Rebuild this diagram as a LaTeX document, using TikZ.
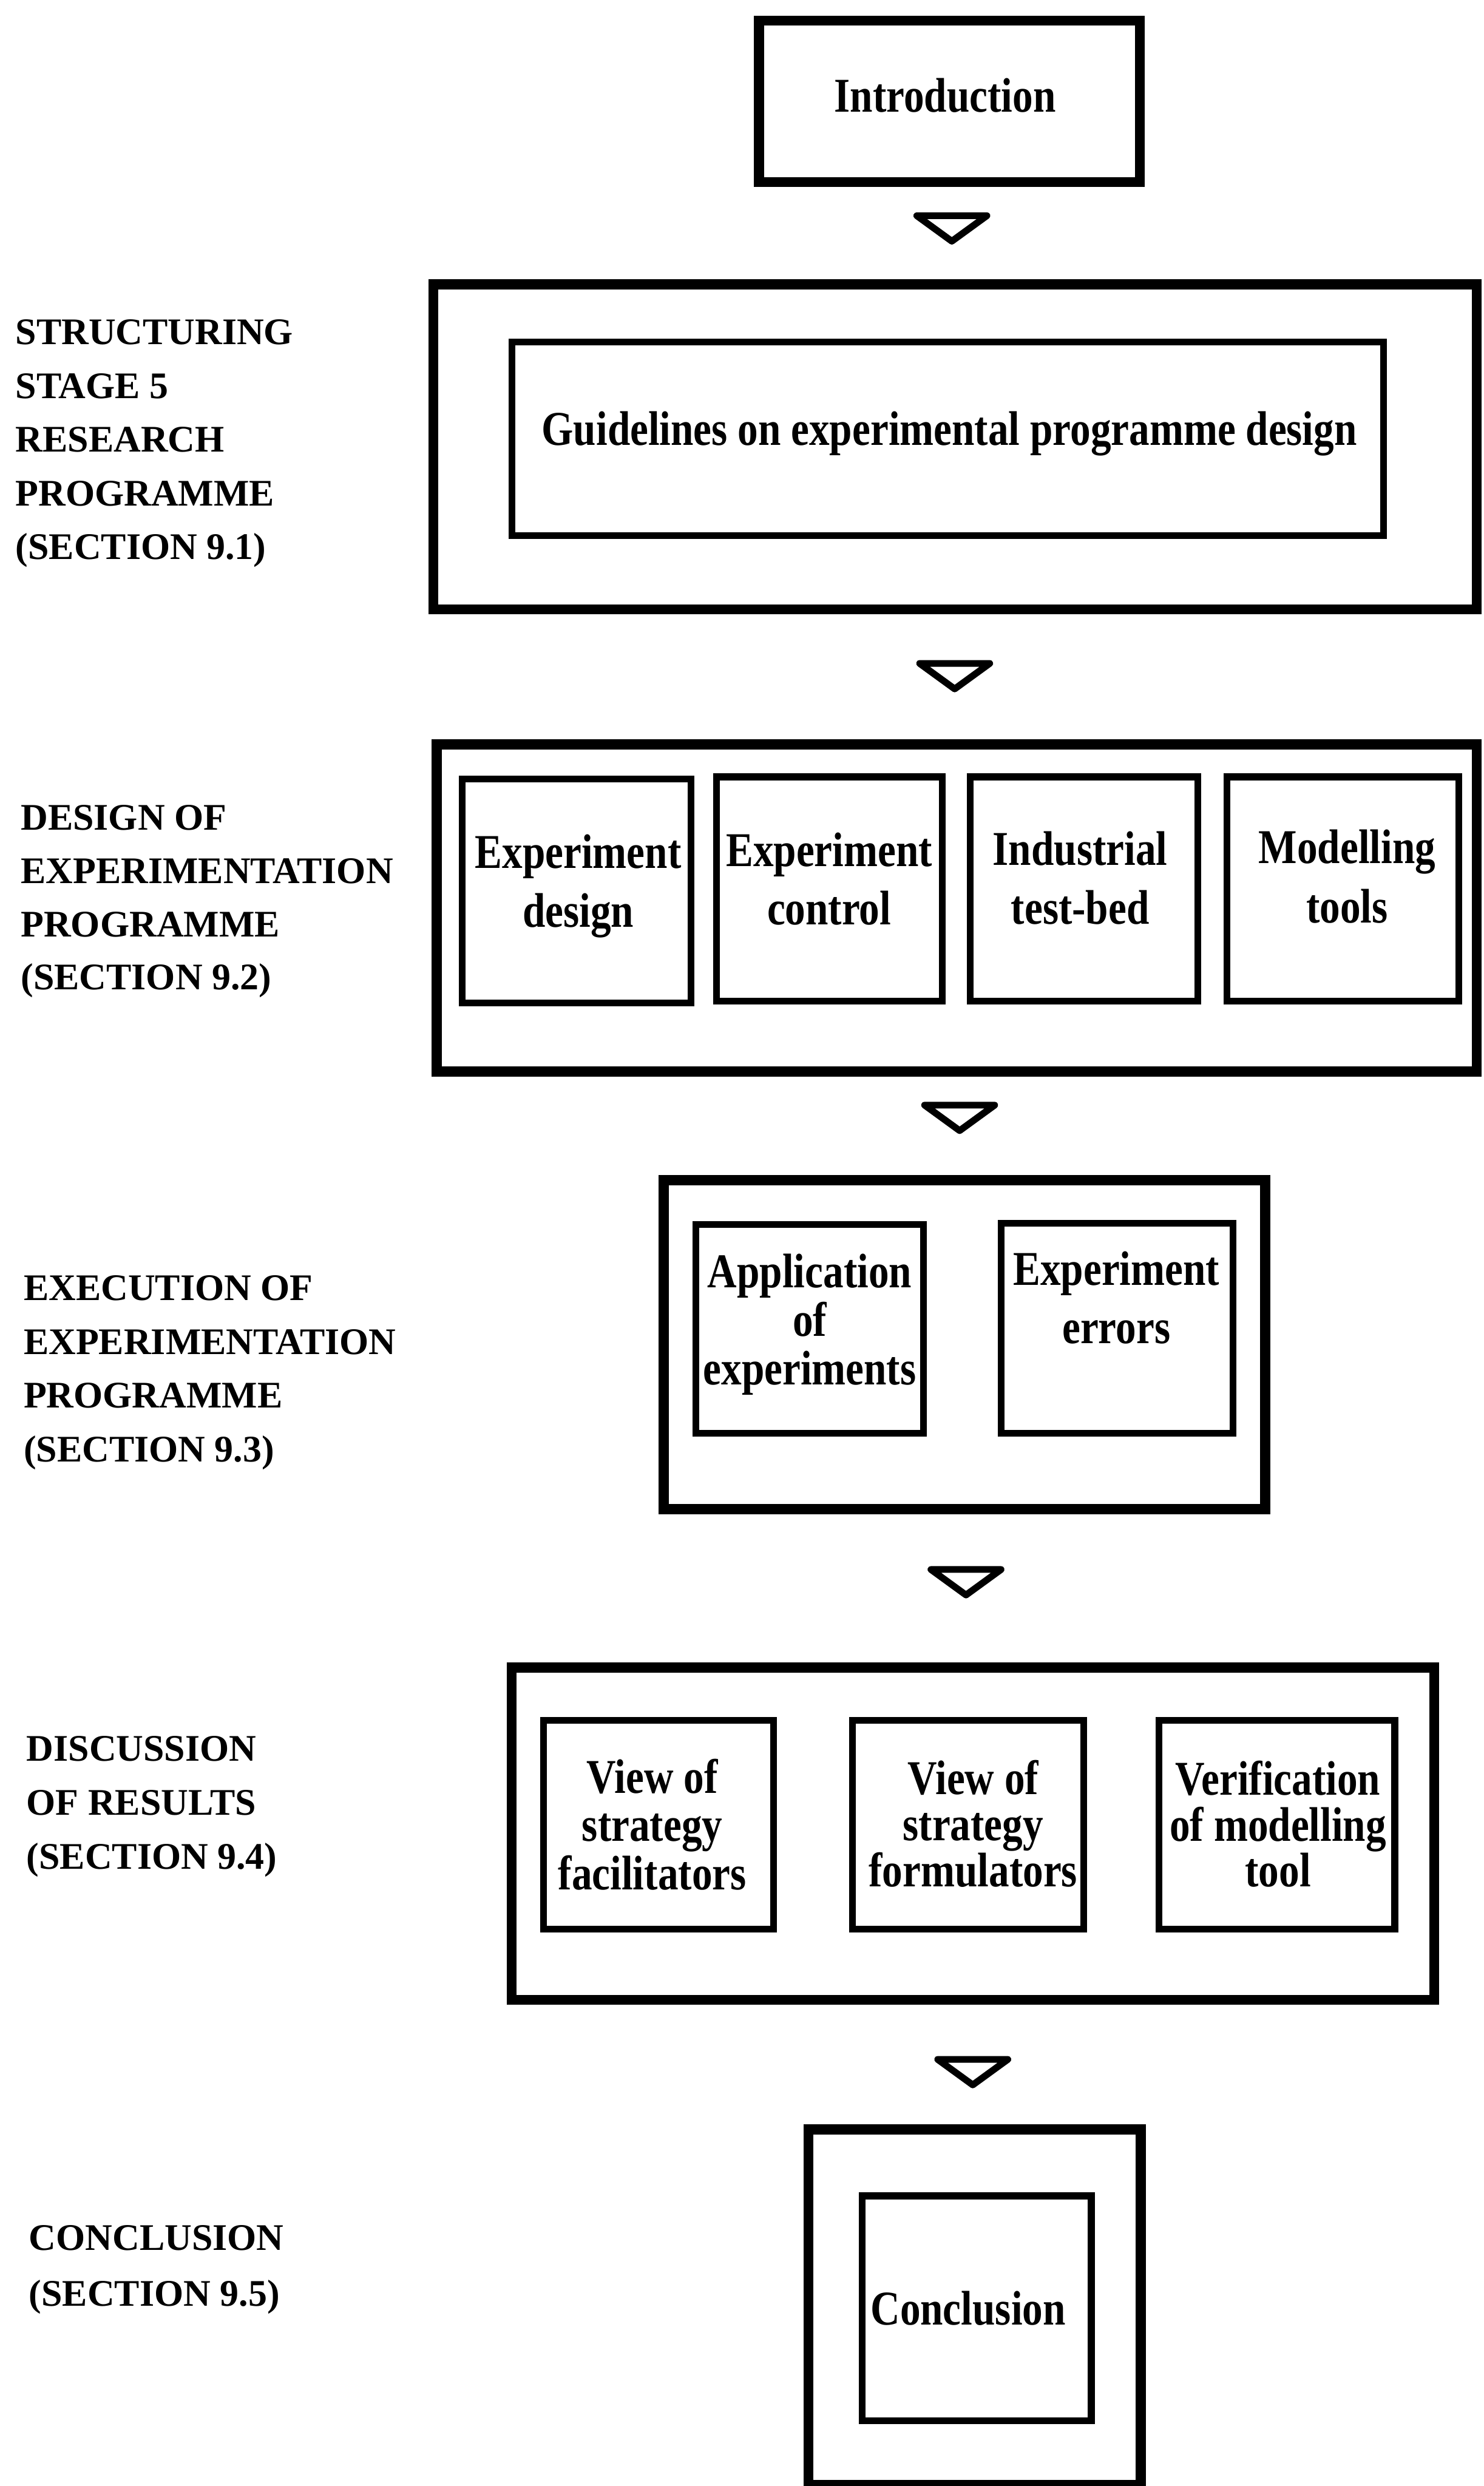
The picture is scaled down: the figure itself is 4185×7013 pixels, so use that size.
\documentclass[tikz,border=0pt]{standalone}
\usepackage{fontspec}
\setmainfont{Liberation Serif}
\newfontfamily\boxfont{Liberation Serif}[FakeStretch=0.84]

% centred and left-aligned line stacks whose reference point is the first baseline
\newcommand\cstack[2]{\vtop{\baselineskip=#1\lineskiplimit=-\maxdimen\lineskip=0pt\halign{\hfil##\hfil\cr#2\crcr}}}
\newcommand\lstack[2]{\vtop{\baselineskip=#1\lineskiplimit=-\maxdimen\lineskip=0pt\halign{##\hfil\cr#2\crcr}}}

\tikzset{
  outerbox/.style={draw, line width=2.8pt, inner sep=0pt},
  innerbox/.style={draw, line width=1.9pt, inner sep=0pt},
  boxtext/.style={font=\boxfont\bfseries\fontsize{13.7}{16.5}\selectfont, anchor=base, inner sep=0pt},
  sidelabel/.style={font=\bfseries\fontsize{10.6}{15.2}\selectfont, anchor=base west, inner sep=0pt},
  flowmark/.style={draw, line width=1.9pt, line join=round, fill=white}
}

\begin{document}
\begin{tikzpicture}[x=0.1pt,y=-0.1pt]
\useasboundingbox (0,0) rectangle (4185,7013);

% ---------- side labels ----------
\node[sidelabel] (lab1) at (42,972)  {\lstack{15.15pt}{STRUCTURING\cr STAGE 5\cr RESEARCH\cr PROGRAMME\cr (SECTION 9.1)}};
\node[sidelabel] (lab2) at (57,2342) {\lstack{15.0pt}{DESIGN OF\cr EXPERIMENTATION\cr PROGRAMME\cr (SECTION 9.2)}};
\node[sidelabel] (lab3) at (65,3668) {\lstack{15.2pt}{EXECUTION OF\cr EXPERIMENTATION\cr PROGRAMME\cr (SECTION 9.3)}};
\node[sidelabel] (lab4) at (73,4968) {\lstack{15.2pt}{DISCUSSION\cr OF RESULTS\cr (SECTION 9.4)}};
\node[sidelabel] (lab5) at (80,6347) {\lstack{15.8pt}{CONCLUSION\cr (SECTION 9.5)}};

% ---------- introduction ----------
\node[outerbox, minimum width=107.4pt, minimum height=45.6pt] (intro) at (2678,286) {};
\node[boxtext] (introtxt) at (2666,316) {Introduction};

% ---------- stage 5 ----------
\node[outerbox, minimum width=294.4pt, minimum height=91.7pt] (struct) at (2694,1260.5) {};
\node[innerbox, minimum width=246.0pt, minimum height=54.6pt] (guide) at (2673.5,1238.5) {};
\node[boxtext] (guidetxt) at (2678,1256) {Guidelines on experimental programme design};

% ---------- design of experimentation ----------
\node[outerbox, minimum width=293.4pt, minimum height=92.3pt] (design) at (2699,2561.5) {};
\node[innerbox, minimum width=64.6pt, minimum height=63.2pt] (d1) at (1626.5,2513.5) {};
\node[innerbox, minimum width=63.8pt, minimum height=63.2pt] (d2) at (2339.5,2507.5) {};
\node[innerbox, minimum width=64.2pt, minimum height=63.2pt] (d3) at (3057.5,2507.5) {};
\node[innerbox, minimum width=65.5pt, minimum height=63.2pt] (d4) at (3788,2507.5) {};
\node[boxtext] (d1txt) at (1631,2450) {\cstack{16.5pt}{Experiment\cr design}};
\node[boxtext] (d2txt) at (2339,2444) {\cstack{16.5pt}{Experiment\cr control}};
\node[boxtext] (d3txt) at (3047,2440) {\cstack{16.7pt}{Industrial\cr test-bed}};
\node[boxtext] (d4txt) at (3800,2436) {\cstack{16.7pt}{Modelling\cr tools}};

% ---------- execution ----------
\node[outerbox, minimum width=169.7pt, minimum height=92.8pt] (exec) at (2720.5,3793) {};
\node[innerbox, minimum width=64.2pt, minimum height=58.9pt] (a1) at (2284.5,3749) {};
\node[innerbox, minimum width=65.4pt, minimum height=59.3pt] (a2) at (3150.5,3747) {};
\node[boxtext] (a1txt) at (2284,3632) {\cstack{13.7pt}{Application\cr of\cr experiments}};
\node[boxtext] (a2txt) at (3149,3625) {\cstack{16.4pt}{Experiment\cr errors}};

% ---------- discussion ----------
\node[outerbox, minimum width=260.3pt, minimum height=93.7pt] (disc) at (2744.5,5172.5) {};
\node[innerbox, minimum width=64.9pt, minimum height=58.9pt] (v1) at (1858,5148) {};
\node[innerbox, minimum width=65.2pt, minimum height=58.9pt] (v2) at (2730.5,5148) {};
\node[innerbox, minimum width=66.5pt, minimum height=58.9pt] (v3) at (3602,5148) {};
\node[boxtext] (v1txt) at (1840,5058) {\cstack{13.6pt}{View of\cr strategy\cr facilitators}};
\node[boxtext] (v2txt) at (2745,5062) {\cstack{13.0pt}{View of\cr strategy\cr formulators}};
\node[boxtext] (v3txt) at (3605,5064) {\cstack{12.9pt}{Verification\cr of modelling\cr tool}};

% ---------- conclusion ----------
\node[outerbox, minimum width=93.7pt, minimum height=100.3pt] (conclout) at (2749.5,6508.5) {};
\node[innerbox, minimum width=64.7pt, minimum height=63.4pt] (conclin) at (2755,6511.5) {};
\node[boxtext] (concltxt) at (2731,6558) {Conclusion};

% ---------- flow markers between the stages ----------
\coordinate (t1) at (2685,608.5);
\coordinate (t2) at (2693,1871.5);
\coordinate (t3) at (2707,3117.5);
\coordinate (t4) at (2725,4427.5);
\coordinate (t5) at (2744,5809.5);
\foreach \t in {t1,t2,t3,t4,t5}
  \draw[flowmark] (\t) ++(-99,0) -- ++(198,0) -- ++(-99,72) -- cycle;
\end{tikzpicture}
\end{document}
